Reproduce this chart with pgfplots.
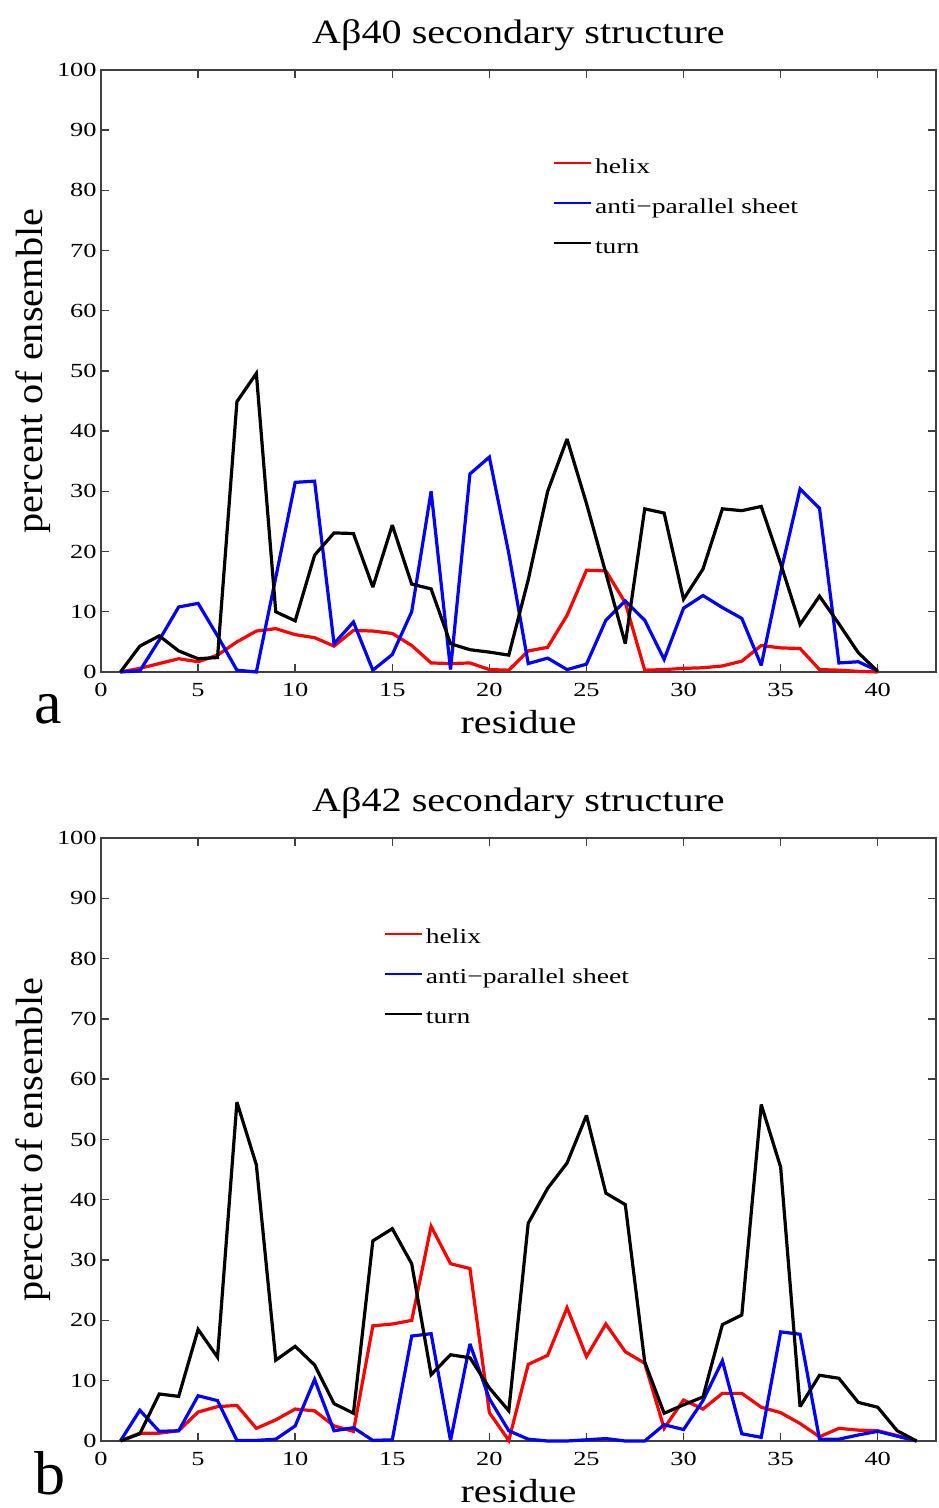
\documentclass[border=0pt]{standalone}
\usepackage{pgfplots}
\pgfplotsset{compat=1.18}
\usepackage{pgfplotstable}
\usepackage{fontspec}
\setmainfont{Liberation Serif}
\newfontfamily\titlefont[FakeStretch=1.18]{Liberation Serif}
\newfontfamily\labfont[FakeStretch=1.2]{Liberation Serif}
\newfontfamily\legfont[FakeStretch=1.3]{Liberation Serif}
\newfontfamily\tickfont[FakeStretch=1.32]{Liberation Serif}
\newfontfamily\ylabfont[FakeStretch=1.06]{Liberation Serif}

\definecolor{axisgray}{RGB}{64,64,64}

% Abeta40, residues 1-40
\pgfplotstableread{
res helix sheet turn
1  0    0    0
2  0.6  0.2  4.3
3  1.4  5.3  6.0
4  2.2  10.8 3.5
5  1.7  11.4 2.2
6  2.8  6.0  2.4
7  5.0  0.3  44.9
8  6.8  0    49.6
9  7.2  15.7 10.0
10 6.2  31.5 8.5
11 5.7  31.7 19.4
12 4.3  4.7  23.1
13 6.9  8.3  23.0
14 6.8  0.3  14.1
15 6.4  2.9  24.4
16 4.4  10.0 14.6
17 1.5  30.0 13.8
18 1.4  0.4  4.7
19 1.5  32.9 3.7
20 0.4  35.7 3.3
21 0.3  19.7 2.8
22 3.5  1.4  15.3
23 4.1  2.3  30.0
24 9.4  0.4  38.7
25 16.9 1.3  28.0
26 16.8 8.6  16.4
27 11.5 11.8 4.7
28 0.3  8.6  27.1
29 0.4  2.1  26.4
30 0.6  10.6 12.1
31 0.7  12.7 17.1
32 1.0  10.7 27.1
33 1.8  8.9  26.8
34 4.4  1.1  27.5
35 4.0  16.5 18.0
36 3.9  30.4 7.9
37 0.4  27.2 12.6
38 0.3  1.5  8.0
39 0.1  1.7  3.2
40 0    0.2  0.1
}\abforty

% Abeta42, residues 1-42
\pgfplotstableread{
res helix sheet turn
1  0    0    0
2  1.3  5.1  1.2
3  1.3  1.6  7.8
4  1.7  1.7  7.4
5  4.8  7.5  18.5
6  5.7  6.7  13.9
7  5.9  0.1  56.2
8  2.1  0.1  45.8
9  3.5  0.3  13.4
10 5.3  2.5  15.7
11 5.0  10.2 12.6
12 2.5  1.7  6.2
13 1.6  2.2  4.6
14 19.1 0.1  33.2
15 19.4 0.2  35.2
16 20.0 17.4 29.4
17 35.6 17.8 11.0
18 29.4 0.1  14.3
19 28.6 16.1 13.8
20 4.7  7.0  8.8
21 0.1  1.7  5.0
22 12.7 0.3  36.1
23 14.2 0    41.9
24 22.1 0    46.1
25 14.0 0.2  54.0
26 19.4 0.4  41.1
27 14.8 0    39.2
28 12.9 0    13.1
29 2.1  2.7  4.6
30 6.8  1.9  6.0
31 5.3  6.7  7.3
32 7.9  13.3 19.3
33 7.9  1.2  20.9
34 5.6  0.6  55.8
35 4.7  18.1 45.4
36 2.9  17.7 5.7
37 0.7  0.3  10.9
38 2.1  0.3  10.4
39 1.8  1.0  6.4
40 1.7  1.6  5.6
41 0.9  0.8  1.7
42 0    0    0
}\abfortytwo

\pgfplotsset{
  every axis title shift=0pt,
  ssplot/.style={
    scale only axis,
    width=417.5pt,
    xmin=0, xmax=43, ymin=0, ymax=100,
    xtick={0,5,...,40}, ytick={0,10,...,100},
    clip=false,
    axis line style={axisgray, line width=0.9pt},
    major tick style={axisgray, line width=0.7pt},
    major tick length=4pt,
    tick align=inside,
    /pgf/number format/assume math mode=true,
    tick label style={font=\tickfont\fontsize{10}{11}\selectfont, inner sep=2pt},
    xticklabel style={yshift=-3.5pt},
    title style={font=\titlefont\fontsize{17}{20}\selectfont,
      at={(axis description cs:0.5,1.0584)}, anchor=center},
    xlabel style={font=\labfont\fontsize{16.7}{20}\selectfont,
      at={(axis description cs:0.5,-0.083)}, anchor=center},
    ylabel style={font=\ylabfont\fontsize{19}{22}\selectfont,
      at={(axis description cs:-0.0814,0.5)}, anchor=center},
    xlabel={residue},
    ylabel={percent of ensemble},
    legend cell align=left,
    legend style={draw=none, fill=none, inner sep=0pt, outer sep=0pt,
      anchor=north west, row sep=9.5pt, column sep=1.5pt,
      font=\legfont\fontsize{10.6}{12}\selectfont,
      nodes={inner sep=0pt, text height=8pt, text depth=2.5pt}},
    legend image code/.code={\draw[#1, line width=1pt] (0pt,2.25pt) -- (18.5pt,2.25pt);},
    every axis plot/.append style={line width=1.6pt, mark=none, line join=miter, miter limit=3},
  }
}

\begin{document}
\begin{tikzpicture}
\useasboundingbox (0,0) rectangle (469pt,754pt);

% panel a
\begin{axis}[ssplot, at={(50.5pt,418pt)}, anchor=south west, height=301pt,
  title={Aβ40 secondary structure},
  legend style={at={(axis cs:23.28,85.5)}}]
\addplot[red] table[x=res, y=helix] {\abforty};
\addplot[blue] table[x=res, y=sheet] {\abforty};
\addplot[black] table[x=res, y=turn] {\abforty};
\legend{helix, anti−parallel sheet, turn}
\node[font=\fontsize{31}{36}\selectfont] at (axis description cs:-0.0635,-0.0615) {a};
\end{axis}

% panel b
\begin{axis}[ssplot, at={(50.5pt,33.5pt)}, anchor=south west, height=301.5pt,
  title={Aβ42 secondary structure},
  legend style={at={(axis cs:14.57,85.1)}}]
\addplot[red] table[x=res, y=helix] {\abfortytwo};
\addplot[blue] table[x=res, y=sheet] {\abfortytwo};
\addplot[black] table[x=res, y=turn] {\abfortytwo};
\legend{helix, anti−parallel sheet, turn}
\node[font=\fontsize{31}{36}\selectfont] at (axis description cs:-0.061,-0.0539) {b};
\end{axis}
\end{tikzpicture}
\end{document}
